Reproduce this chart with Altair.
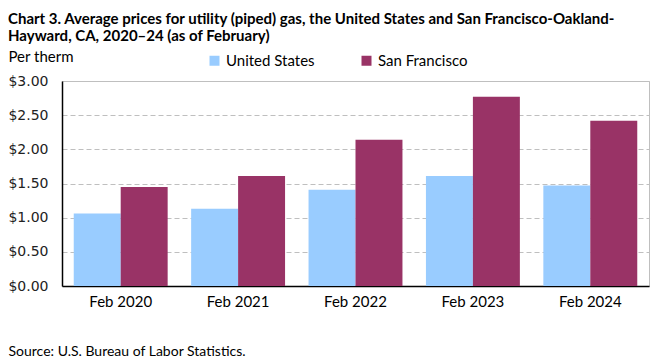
import altair as alt
import pandas as pd

periods = ["Feb 2020", "Feb 2021", "Feb 2022", "Feb 2023", "Feb 2024"]
series_names = ["United States", "San Francisco"]
us_values = [1.06, 1.13, 1.41, 1.61, 1.47]
sf_values = [1.45, 1.61, 2.14, 2.77, 2.42]
colors = ["#99CCFF", "#993366"]
y_ticks = [0, 0.5, 1.0, 1.5, 2.0, 2.5, 3.0]

rows = []
for p, u, s in zip(periods, us_values, sf_values):
    rows.append({"period": p, "series": series_names[0], "value": u})
    rows.append({"period": p, "series": series_names[1], "value": s})
df = pd.DataFrame(rows)

title_lines = [
    "Chart 3. Average prices for utility (piped) gas, the United States and San Francisco-Oakland-",
    "Hayward, CA, 2020\u201324 (as of February)",
]

chart = alt.Chart(df).mark_bar().encode(
    x=alt.X(
        "period:N",
        sort=periods,
        scale=alt.Scale(paddingInner=0.2, paddingOuter=0.1),
        axis=alt.Axis(
            title="Source: U.S. Bureau of Labor Statistics.",
            titleFont="Lato",
            titleFontSize=14,
            titleFontWeight="normal",
            titleColor="#000000",
            titleAnchor="start",
            titleAlign="left",
            titleX=-54,
            titleY=65,
            titleBaseline="middle",
            labelAngle=0,
            labelFont="Lato",
            labelFontSize=15,
            labelColor="#000000",
            labelPadding=15,
            labelBaseline="middle",
            ticks=False,
            domainColor="#000000",
            domainWidth=1.5,
        ),
    ),
    xOffset=alt.XOffset("series:N", sort=series_names, scale=alt.Scale(paddingInner=0, paddingOuter=0)),
    y=alt.Y(
        "value:Q",
        scale=alt.Scale(domain=[0, 3], nice=False),
        axis=alt.Axis(
            values=y_ticks,
            format="$.2f",
            title="Per therm",
            titleAngle=0,
            titleFont="Lato",
            titleFontSize=15,
            titleFontWeight="normal",
            titleColor="#000000",
            titleAlign="left",
            titleBaseline="middle",
            titleX=-54,
            titleY=-25,
            labelFont="DejaVu Sans",
            labelFontSize=14,
            labelColor="#222222",
            labelPadding=14,
            ticks=False,
            domainColor="#000000",
            domainWidth=1.5,
            grid=True,
            gridColor="#BFBFBF",
            gridDash=[5, 3],
            gridWidth=1,
        ),
    ),
    color=alt.Color(
        "series:N",
        sort=series_names,
        scale=alt.Scale(domain=series_names, range=colors),
        legend=alt.Legend(
            title=None,
            orient="none",
            direction="horizontal",
            legendX=145,
            legendY=-28,
            symbolType="square",
            symbolSize=100,
            symbolStrokeWidth=0,
            labelFont="Lato",
            labelFontSize=15,
            labelColor="#000000",
            columnPadding=44,
        ),
    ),
).properties(
    width=587,
    height=205,
    title=alt.TitleParams(
        text=title_lines,
        font="Lato",
        fontSize=15,
        fontWeight="bold",
        color="#000000",
        anchor="start",
        frame="group",
        dx=-54,
        offset=5,
        lineHeight=17,
    ),
    autosize=alt.AutoSizeParams(type="none"),
    padding={"left": 54, "top": 73, "right": 4, "bottom": 72},
).configure_view(
    stroke="#BFBFBF",
    strokeWidth=1,
)

chart.save("out.html", embed_options={"renderer": "svg", "actions": False})
